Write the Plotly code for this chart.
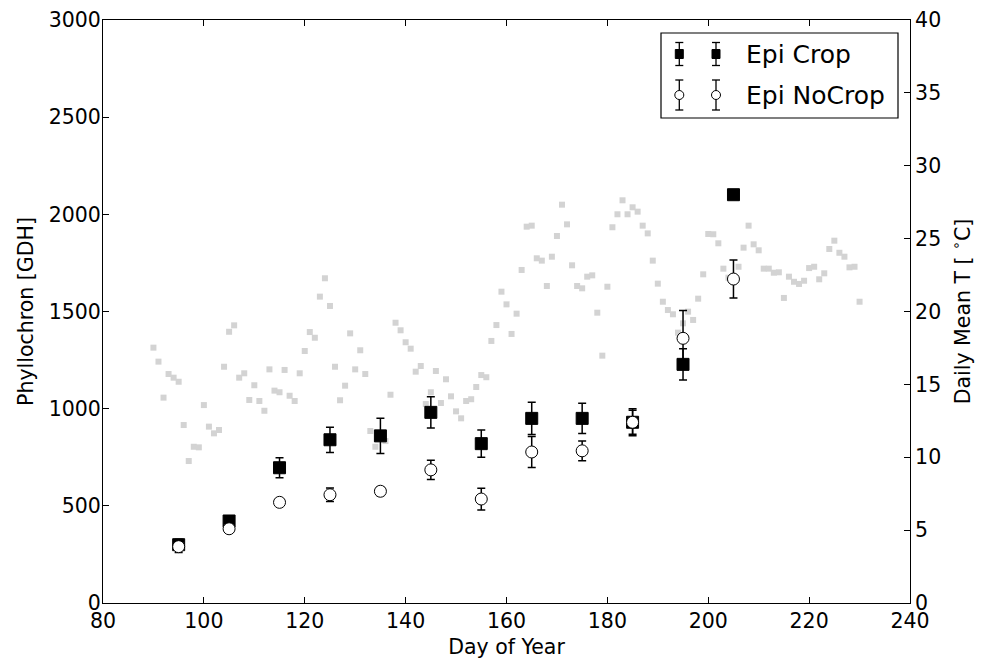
import plotly.graph_objects as go

# ---------------- data ----------------
temp_days = list(range(90, 231))
temp_vals = [
    17.52, 16.56, 14.09, 15.71, 15.46, 15.18, 12.21, 9.74, 10.72, 10.68,   # 90-99
    13.58, 12.10, 11.64, 11.87, 16.21, 18.61, 19.05, 15.46, 15.76, 13.93,  # 100-109
    14.94, 13.86, 13.19, 16.03, 14.57, 14.46, 15.99, 14.22, 13.86, 15.76,  # 110-119
    17.29, 18.59, 18.20, 21.02, 22.28, 20.38, 16.21, 13.91, 14.91, 18.50,  # 120-129
    16.03, 17.34, 15.71, 11.80, 10.72, 11.39, 11.11, 14.29, 19.23, 18.71,  # 130-139
    17.89, 17.45, 15.87, 16.26, 13.65, 14.46, 15.92, 13.72, 15.35, 14.18,  # 140-149
    13.15, 12.67, 13.86, 13.98, 14.82, 15.64, 15.49, 17.98, 19.07, 21.36,  # 150-159
    20.49, 18.46, 19.85, 22.85, 25.82, 25.89, 23.65, 23.49, 21.75, 23.76,  # 160-169
    25.18, 27.33, 25.98, 23.17, 21.75, 21.59, 22.39, 22.48, 19.92, 16.97,  # 170-179
    21.70, 25.78, 26.67, 27.63, 26.67, 27.15, 26.85, 25.89, 25.36, 23.49,  # 180-189
    21.91, 20.67, 20.10, 19.81, 18.55, 19.19, 19.99, 19.42, 20.88, 22.55,  # 190-199
    25.32, 25.30, 24.68, 22.94, 22.32, 22.20, 23.07, 24.38, 25.89, 24.61,  # 200-209
    24.20, 22.94, 22.94, 22.66, 22.69, 20.93, 22.39, 22.04, 21.89, 22.11,  # 210-219
    22.98, 23.07, 22.21, 22.62, 24.29, 24.86, 24.03, 23.76, 23.03, 23.07,  # 220-229
    20.67,                                                                 # 230
]

sample_days = [95, 105, 115, 125, 135, 145, 155, 165, 175, 185, 195, 205]
crop_vals = [300, 422, 696, 840, 860, 981, 820, 950, 950, 930, 1228, 2101]
crop_err = [28, 10, 52, 65, 91, 80, 70, 83, 78, 70, 80, 12]
nocrop_vals = [290, 382, 518, 557, 575, 685, 535, 777, 783, 930, 1362, 1667]
nocrop_err = [30, 10, 15, 35, 22, 49, 56, 80, 51, 62, 143, 98]

x_ticks = [80, 100, 120, 140, 160, 180, 200, 220, 240]
legend_labels = ["Epi Crop", "Epi NoCrop"]

# ---------------- figure ----------------
FONT = "DejaVu Sans"
W, H = 984, 660
L, R, T, B = 103, 74, 20, 57
PW, PH = W - L - R, H - T - B


def px(xp):
    return (xp - L) / PW


def py(yp):
    return (H - B - yp) / PH


fig = go.Figure()

fig.add_trace(go.Scatter(
    x=temp_days, y=temp_vals, mode="markers", yaxis="y",
    marker=dict(symbol="square", size=6, color="#d3d3d3", line=dict(width=0)),
    showlegend=False, hoverinfo="skip",
))

fig.add_trace(go.Scatter(
    x=sample_days, y=crop_vals, mode="markers", yaxis="y2",
    marker=dict(symbol="square", size=12, color="black", line=dict(width=1, color="black")),
    error_y=dict(type="data", array=crop_err, visible=True, color="black", thickness=1.5, width=4),
    showlegend=False, name=legend_labels[0],
))

fig.add_trace(go.Scatter(
    x=sample_days, y=nocrop_vals, mode="markers", yaxis="y2",
    marker=dict(symbol="circle", size=12, color="white", line=dict(width=1, color="black")),
    error_y=dict(type="data", array=nocrop_err, visible=True, color="black", thickness=1.5, width=4),
    showlegend=False, name=legend_labels[1],
))

axis_common = dict(
    showgrid=False, zeroline=False, showline=True, linecolor="black", linewidth=1,
    ticks="inside", ticklen=6, tickwidth=1, tickcolor="black",
    tickfont=dict(family=FONT, size=20.5, color="black"),
)

fig.update_layout(
    width=W, height=H,
    margin=dict(l=L, r=R, t=T, b=B, autoexpand=False),
    paper_bgcolor="white", plot_bgcolor="white",
    font=dict(family=FONT, color="black"),
    showlegend=False,
    xaxis=dict(
        range=[80, 240], tickvals=x_ticks, mirror="ticks", ticklabelstandoff=-1,
        title=dict(text="Day of Year", font=dict(family=FONT, size=20.5), standoff=8),
        **axis_common,
    ),
    yaxis=dict(
        range=[0, 40], dtick=5, side="right",
        title=dict(text="Daily Mean T [ <sup>∘</sup>C]", font=dict(family=FONT, size=20.5), standoff=15),
        **axis_common,
    ),
    yaxis2=dict(
        range=[0, 3000], dtick=500, side="left", overlaying="y", ticklabelstandoff=-3,
        title=dict(text="Phyllochron [GDH]", font=dict(family=FONT, size=20.5), standoff=9),
        **axis_common,
    ),
)

# ---------------- manual legend (matplotlib style, two points per entry) ----------------
shapes = []
annotations = []
shapes.append(dict(type="rect", xref="paper", yref="paper",
                   x0=px(661), x1=px(898), y0=py(118), y1=py(33),
                   line=dict(color="black", width=1.2), fillcolor="white", layer="above"))

entries = [
    dict(y=54, half=11.5, kind="square", label=legend_labels[0]),
    dict(y=95, half=15, kind="circle", label=legend_labels[1]),
]
for e in entries:
    for mx in (679.3, 716):
        yc = e["y"]
        shapes.append(dict(type="line", xref="paper", yref="paper",
                           x0=px(mx), x1=px(mx), y0=py(yc - e["half"]), y1=py(yc + e["half"]),
                           line=dict(color="black", width=1.3), layer="above"))
        for cy in (yc - e["half"], yc + e["half"]):
            shapes.append(dict(type="line", xref="paper", yref="paper",
                               x0=px(mx - 4), x1=px(mx + 4), y0=py(cy), y1=py(cy),
                               line=dict(color="black", width=1.3), layer="above"))
        if e["kind"] == "square":
            shapes.append(dict(type="rect", xref="paper", yref="paper",
                               x0=px(mx - 4), x1=px(mx + 4), y0=py(yc + 4.5), y1=py(yc - 4.5),
                               line=dict(color="black", width=1), fillcolor="black", layer="above"))
        else:
            shapes.append(dict(type="circle", xref="paper", yref="paper",
                               x0=px(mx - 4.5), x1=px(mx + 4.5), y0=py(yc + 4.5), y1=py(yc - 4.5),
                               line=dict(color="black", width=1), fillcolor="white", layer="above"))
    annotations.append(dict(xref="paper", yref="paper", x=px(744), y=py(e["y"]),
                            text=e["label"], showarrow=False, xanchor="left", yanchor="middle",
                            font=dict(family=FONT, size=25, color="black")))

fig.update_layout(shapes=shapes, annotations=annotations)

fig.write_html("out.html", config=dict(displayModeBar=False),
               post_script="document.body.style.margin='0px';")
